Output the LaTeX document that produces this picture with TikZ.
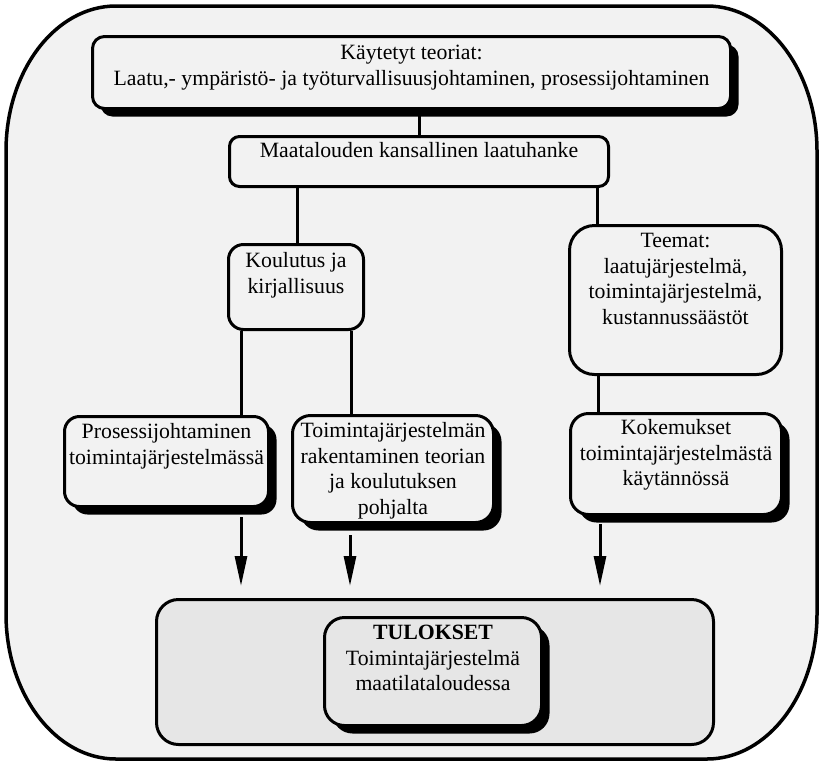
\documentclass[tikz,border=0pt]{standalone}
\usepackage{fontspec}
\setmainfont{Liberation Serif}
\usetikzlibrary{arrows.meta,shadows,calc}
\definecolor{bgc}{HTML}{F2F2F2}
\definecolor{resc}{HTML}{E6E6E6}
\begin{document}
\begin{tikzpicture}[x=1pt,y=-1pt,
  box/.style={draw, line width=3pt, fill=bgc, rounded corners=#1, inner sep=0pt},
  box/.default=15pt,
  shad/.style={drop shadow={shadow xshift=8pt, shadow yshift=-8pt, opacity=1, fill=black}},
  txt/.style={inner sep=0pt, anchor=north, align=center, font=\fontsize{21.8}{25.8}\selectfont},
  conn/.style={line width=3pt},
  arr/.style={line width=3pt, -{Triangle[length=30pt,width=12pt]}, shorten >=12pt}]
\useasboundingbox (0,0) rectangle (821,764);
\fill[white] (0,0) rectangle (821,764);
% outer frame
\path[draw=black, line width=3.5pt, fill=bgc]
  (116,6) -- (707,6) .. controls (767.7,6) and (817,71) .. (817,151)
  -- (817,614) .. controls (817,694) and (767.7,759) .. (707,759)
  -- (116,759) .. controls (55.3,759) and (6,694) .. (6,614)
  -- (6,151) .. controls (6,71) and (55.3,6) .. (116,6) -- cycle;
% boxes
\node[box=12pt, shad, minimum width=638pt, minimum height=72pt] (top) at (411.5,72.5) {};
\node[txt] (topt) at ($(top.north)+(0,6.4)$) {\strut Käytetyt teoriat:\\Laatu,- ympäristö- ja työturvallisuusjohtaminen, prosessijohtaminen};
\node[box=10pt, minimum width=379pt, minimum height=50pt] (maat) at (419,161.5) {};
\node[txt] (maatt) at ($(maat.north)+(0,4.5)$) {\strut Maatalouden kansallinen laatuhanke};
\node[box=15pt, minimum width=135pt, minimum height=85pt] (koul) at (296,287) {};
\node[txt] (koult) at ($(koul.north)+(0,6)$) {\strut Koulutus ja\\kirjallisuus};
\node[box=25pt, minimum width=212pt, minimum height=149pt] (teem) at (675.5,300) {};
\node[txt] (teemt) at ($(teem.north)+(0,5)$) {\strut Teemat:\\laatujärjestelmä,\\toimintajärjestelmä,\\kustannussäästöt};
\node[box=15pt, shad, minimum width=204pt, minimum height=90pt] (pros) at (166.5,461.5) {};
\node[txt] (prost) at ($(pros.north)+(0,5)$) {\strut Prosessijohtaminen\\toimintajärjestelmässä};
\node[box=18pt, shad, minimum width=201pt, minimum height=107pt] (toim) at (393,469) {};
\node[txt] (toimt) at ($(toim.north)+(0,5)$) {\strut Toimintajärjestelmän\\rakentaminen teorian\\ja koulutuksen\\pohjalta};
\node[box=18pt, shad, minimum width=211pt, minimum height=101pt] (koke) at (676,464) {};
\node[txt] (koket) at ($(koke.north)+(0,4)$) {\strut Kokemukset\\toimintajärjestelmästä\\käytännössä};
\node[box=22pt, fill=resc, minimum width=557pt, minimum height=145pt] (tulo) at (435,672) {};
\node[box=20pt, shad, fill=resc, minimum width=217pt, minimum height=108pt] (tuli) at (433,671.5) {};
\node[txt] (tulit) at ($(tuli.north)+(0,5)$) {\strut\textbf{TULOKSET}\\Toimintajärjestelmä\\maatilataloudessa};
% connector x positions
\coordinate (c1) at (419,0);
\coordinate (c2) at (297,0);
\coordinate (c3) at (597,0);
\coordinate (c4) at (241,0);
\coordinate (c5) at (351,0);
\coordinate (c6) at (598,0);
\coordinate (c7) at (350,0);
\coordinate (c8) at (600,0);
\draw[conn] (top.south -| c1) -- (maat.north -| c1);
\draw[conn] (maat.south -| c2) -- (koul.north -| c2);
\draw[conn] (maat.south -| c3) -- (teem.north -| c3);
\draw[conn] (koul.south -| c4) -- (pros.north -| c4);
\draw[conn] (koul.south -| c5) -- (toim.north -| c5);
\draw[conn] (teem.south -| c6) -- (koke.north -| c6);
\draw[arr] ($(pros.south -| c4)+(0,9)$) -- (tulo.north -| c4);
\draw[arr] ($(toim.south -| c7)+(0,11)$) -- (tulo.north -| c7);
\draw[arr] ($(koke.south -| c8)+(0,8)$) -- (tulo.north -| c8);
\end{tikzpicture}
\end{document}
